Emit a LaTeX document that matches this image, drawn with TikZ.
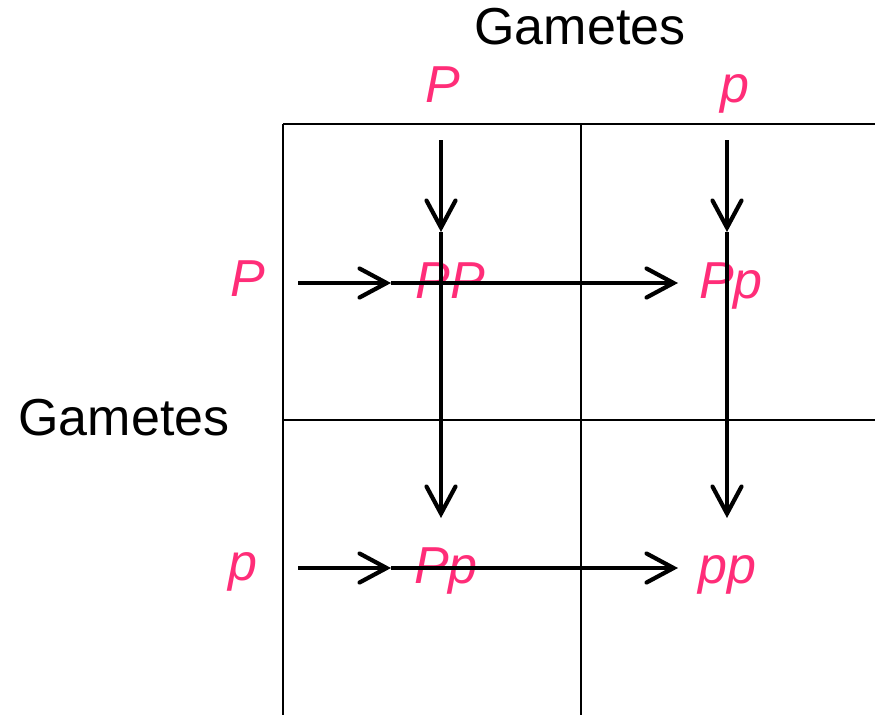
\documentclass[tikz,border=0pt]{standalone}
\usepackage{fontspec}
\setmainfont{Liberation Sans}
\usetikzlibrary{arrows.meta}
\definecolor{allele}{RGB}{255,45,120}
\tikzset{
  gridline/.style={line width=1.2pt, black},
  arr/.style={line width=3.7pt, -{Straight Barb[length=27pt,width=29pt,line width=4.2pt,line cap=round]}},
  lbl/.style={anchor=base, inner sep=0pt, font=\fontsize{52}{62}\selectfont},
  gene/.style={lbl, text=allele, font=\fontsize{52}{62}\selectfont\itshape},
}
\begin{document}
\begin{tikzpicture}[x=1pt,y=-1pt]
\useasboundingbox (0,0) rectangle (875,715);
% grid
\draw[gridline] (283,124) -- (875,124);
\draw[gridline] (283,420) -- (875,420);
\draw[gridline] (283,124) -- (283,715);
\draw[gridline] (581,124) -- (581,715);
% labels
\node[lbl] (gtop) at (580,44) {Gametes};
\node[lbl] (gleft) at (124,435) {Gametes};
\node[gene] (tP) at (443,102) {P};
\node[gene] (tp) at (735,102) {p};
\node[gene] (lP) at (248,296) {P};
\node[gene] (lp) at (243,580) {p};
\node[gene] (PP) at (450,298) {PP};
\node[gene] (Pp1) at (731,298) {Pp};
\node[gene] (Pp2) at (446,583) {Pp};
\node[gene] (pp) at (727,583) {pp};
% arrow points
\coordinate (v1a) at (441,140);
\coordinate (v1b) at (441,232);
\coordinate (v1c) at (441,518);
\coordinate (v2a) at (727,140);
\coordinate (v2b) at (727,232);
\coordinate (v2c) at (727,518);
\coordinate (h1a) at (298,283);
\coordinate (h1b) at (391,283);
\coordinate (h1c) at (678,283);
\coordinate (h2a) at (298,568);
\coordinate (h2b) at (391,568);
\coordinate (h2c) at (678,568);
\draw[arr] (v1a) -- (v1b);
\draw[arr] (v1b) -- (v1c);
\draw[arr] (v2a) -- (v2b);
\draw[arr] (v2b) -- (v2c);
\draw[arr] (h1a) -- (h1b);
\draw[arr] (h1b) -- (h1c);
\draw[arr] (h2a) -- (h2b);
\draw[arr] (h2b) -- (h2c);
\end{tikzpicture}
\end{document}
